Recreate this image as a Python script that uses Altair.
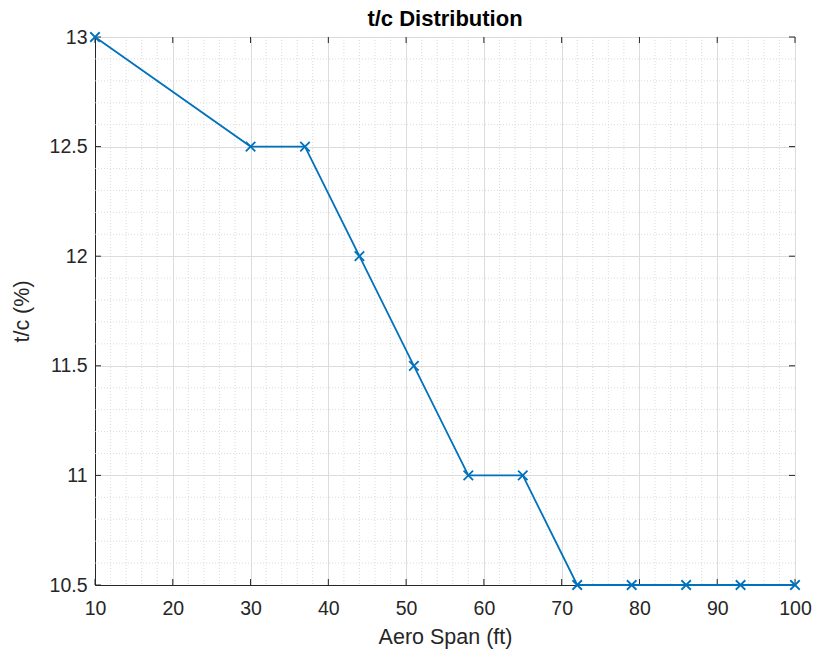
import altair as alt
import pandas as pd

# Data
SPAN = [10, 30, 37, 44, 51, 58, 65, 72, 79, 86, 93, 100]
TC = [13.0, 12.5, 12.5, 12.0, 11.5, 11.0, 11.0, 10.5, 10.5, 10.5, 10.5, 10.5]

X_TICKS = [10, 20, 30, 40, 50, 60, 70, 80, 90, 100]
Y_TICKS = [10.5, 11.0, 11.5, 12.0, 12.5, 13.0]
X_MINOR = [v for v in range(12, 100, 2) if v % 10 != 0]
Y_MINOR = [round(10.5 + 0.1 * i, 1) for i in range(1, 25) if i % 5 != 0]

W, H = 700, 548
TXT = "#262626"
FONT = "Liberation Sans"

xs = alt.Scale(domain=[10, 100], nice=False, zero=False)
ys = alt.Scale(domain=[10.5, 13], nice=False, zero=False)
XAX = alt.Axis(values=X_TICKS, format="d")
YAX = alt.Axis(values=Y_TICKS, format="~g")
XT = "Aero Span (ft)"
YT = "t/c (%)"


def X(field):
    return alt.X(field, scale=xs, axis=XAX, title=XT)


def Y(field):
    return alt.Y(field, scale=ys, axis=YAX, title=YT)


df = pd.DataFrame({"span": SPAN, "tc": TC})
xminor = pd.DataFrame({"v": X_MINOR})
yminor = pd.DataFrame({"v": Y_MINOR})
xt = pd.DataFrame({"v": X_TICKS})
yt = pd.DataFrame({"v": Y_TICKS})

minor_style = dict(color="#d2d2d2", strokeDash=[1, 2], strokeWidth=0.8)

xminor_rules = alt.Chart(xminor).mark_rule(**minor_style).encode(x=X("v:Q"))
yminor_rules = alt.Chart(yminor).mark_rule(**minor_style).encode(y=Y("v:Q"))

tick_style = dict(color=TXT, strokeWidth=1)
bottom_ticks = alt.Chart(xt).mark_rule(**tick_style).encode(
    x=X("v:Q"), y=alt.value(H), y2=alt.value(H - 6)
)
top_ticks = alt.Chart(xt).mark_rule(**tick_style).encode(
    x=X("v:Q"), y=alt.value(0), y2=alt.value(6)
)
left_ticks = alt.Chart(yt).mark_rule(**tick_style).encode(
    y=Y("v:Q"), x=alt.value(0), x2=alt.value(6)
)
right_ticks = alt.Chart(yt).mark_rule(**tick_style).encode(
    y=Y("v:Q"), x=alt.value(W), x2=alt.value(W - 6)
)

base = alt.Chart(df).encode(x=X("span:Q"), y=Y("tc:Q"))

line = base.mark_line(color="#0072BD", strokeWidth=1.8)
pts = base.mark_point(
    shape="M-1,-1L1,1M-1,1L1,-1",
    filled=False,
    color="#0072BD",
    size=90,
    strokeWidth=1.8,
    opacity=1,
)

chart = (
    alt.layer(
        xminor_rules,
        yminor_rules,
        bottom_ticks,
        top_ticks,
        left_ticks,
        right_ticks,
        line,
        pts,
    )
    .properties(
        width=W,
        height=H,
        title=alt.TitleParams(
            "t/c Distribution",
            font=FONT,
            fontSize=22,
            fontWeight="bold",
            color="#000000",
            offset=0,
            dy=4,
        ),
        autosize=alt.AutoSizeParams(type="none"),
        padding={"left": 95, "top": 37, "right": 18, "bottom": 71},
        background="white",
    )
    .configure_view(stroke=TXT, strokeWidth=1)
    .configure_axis(
        labelFont=FONT,
        titleFont=FONT,
        labelFontSize=19.5,
        titleFontSize=21.5,
        labelColor=TXT,
        titleColor=TXT,
        titleFontWeight="normal",
        domainColor=TXT,
        domainWidth=1,
        ticks=False,
        tickSize=0,
        gridColor="#dcdcdc",
        gridWidth=1,
        grid=True,
    )
    .configure_axisX(labelPadding=14, titlePadding=9, labelFlush=False)
    .configure_axisY(labelPadding=8, titlePadding=16, labelFlush=False)
)

chart.save("out.html", embed_options={"renderer": "svg", "actions": False})
